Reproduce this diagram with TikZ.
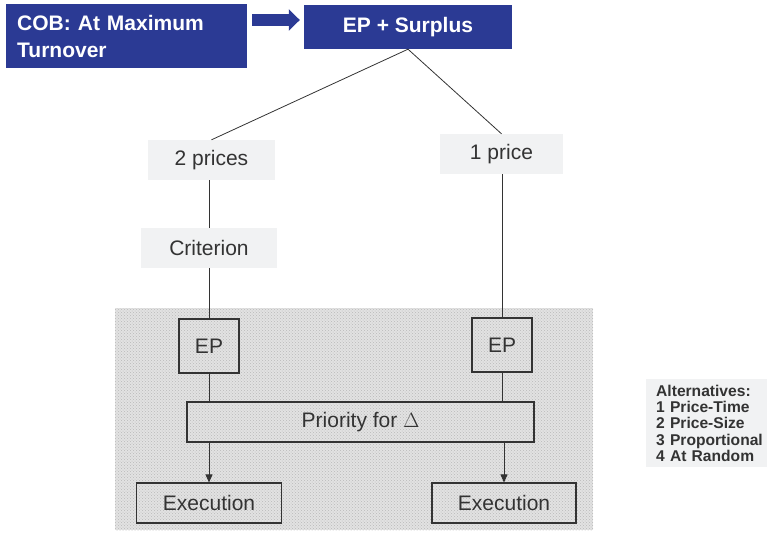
\documentclass[tikz,border=0pt]{standalone}
\usepackage{fontspec}
\setmainfont{Liberation Sans}
\usetikzlibrary{positioning, calc, arrows.meta, patterns}
\definecolor{Navy}{HTML}{2B3A94}
\definecolor{Pale}{HTML}{F1F2F3}
\definecolor{Ink}{HTML}{333333}
\definecolor{Screen}{HTML}{E2E2E2}
\tikzset{
    bluenode/.style={rectangle, fill=Navy, text=white, font=\fontsize{21}{27}\selectfont\bfseries},
    palenode/.style={rectangle, fill=Pale, text=Ink, font=\fontsize{21}{25}\selectfont, minimum height=40pt},
    framenode/.style={rectangle, draw=Ink, line width=1.1pt, text=Ink, font=\fontsize{21}{25}\selectfont},
    link/.style={draw=Ink, line width=0.8pt},
    arrow/.style={-{Triangle[length=8pt, width=7pt]}, draw=Ink, line width=0.8pt},
    blockarrow/.style={-{Triangle[length=11pt, width=21pt]}, draw=Navy, line width=12pt},
}
\begin{document}
\begin{tikzpicture}[x=1pt, y=-1pt]
    \useasboundingbox (0,0) rectangle (767,533);

    % Zona retinata
    \fill[Screen] (115,308) rectangle (593,530);
    \fill[pattern=crosshatch dots, pattern color=gray!55] (115,308) rectangle (593,530);

    % Intestazione
    \node[bluenode, anchor=north west, minimum width=241pt, minimum height=64pt,
          text width=219pt, inner xsep=11pt, align=left] (cob) at (6,4)
          {COB: At Maximum\\Turnover};
    \node[bluenode, minimum width=208pt, minimum height=44pt] (surplus) at (408,27) {EP + Surplus};
    \coordinate (arrowstart) at (252,20);
    \draw[blockarrow, shorten >=4pt] (arrowstart) -- (arrowstart -| surplus.west);

    % Rami
    \node[palenode, minimum width=127pt] (twoprices) at (211.5,160) {2 prices};
    \node[palenode, minimum width=123pt] (oneprice) at (501.5,154) {1 price};
    \node[palenode, minimum width=136pt] (criterion) at (209,248) {Criterion};

    \draw[link] (surplus.south) -- (twoprices.north);
    \draw[link] (surplus.south) -- (oneprice.north);
    \draw[link] (twoprices.south -| criterion) -- (criterion.north);

    % Blocchi nella zona retinata
    \node[framenode, minimum width=60pt, minimum height=54pt] (epleft) at (209,346) {EP};
    \node[framenode, minimum width=60pt, minimum height=54pt] (epright) at (502,345) {EP};
    \node[framenode, minimum width=347pt, minimum height=40pt] (priority) at (360.5,422) {Priority for $\Delta$};
    \node[framenode, minimum width=145pt, minimum height=40pt] (execleft) at (209,503) {Execution};
    \node[framenode, minimum width=144pt, minimum height=40pt] (execright) at (504,503) {Execution};

    \draw[link] (criterion.south) -- (epleft.north);
    \draw[link] (oneprice.south -| epright) -- (epright.north);
    \draw[link] (epleft.south) -- (epleft.south |- priority.north);
    \draw[link] (epright.south) -- (epright.south |- priority.north);
    \draw[arrow] (priority.south -| execleft) -- (execleft.north);
    \draw[arrow] (priority.south -| execright) -- (execright.north);

    % Legenda
    \node[rectangle, fill=Pale, text=Ink, anchor=north west, minimum width=125pt, minimum height=88pt,
          text width=111pt, inner xsep=10pt, align=left,
          font=\fontsize{15.6}{16.3}\selectfont\bfseries] (alternatives) at (646,379)
          {Alternatives:\\1 Price-Time\\2 Price-Size\\3 Proportional\\4 At Random};
\end{tikzpicture}
\end{document}
